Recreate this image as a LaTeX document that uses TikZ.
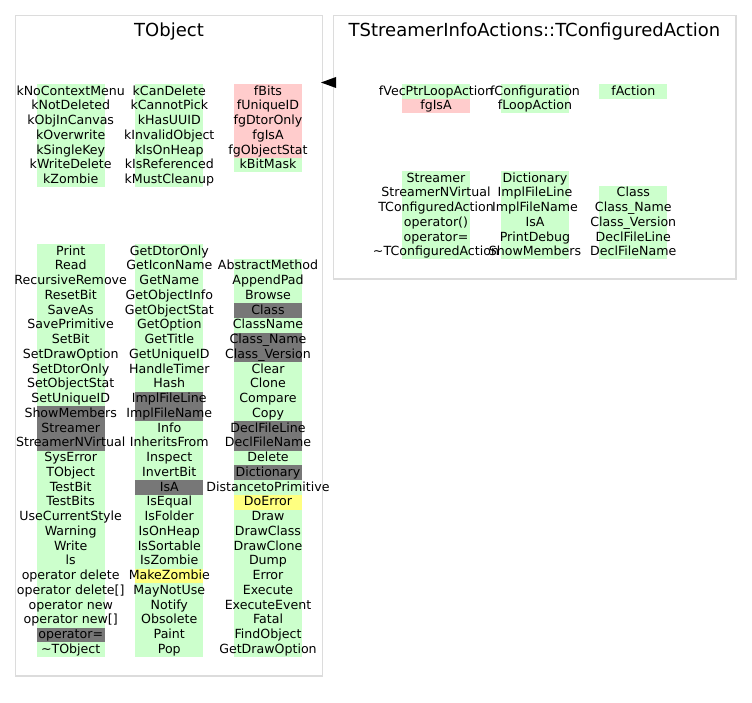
\documentclass[tikz,border=0pt]{standalone}
\usepackage{fontspec}
\setmainfont{DejaVu Sans}
\definecolor{memg}{HTML}{CCFFCC}
\definecolor{memp}{HTML}{FFCCCC}
\definecolor{memd}{HTML}{777777}
\definecolor{memy}{HTML}{FFFF80}
\definecolor{boxline}{HTML}{DCDCDC}
\pgfdeclarelayer{bg}
\pgfsetlayers{bg,main}
\newcommand\rowh{14.75}
% #1 name prefix, #2 x centre, #3 top y, #4 list text/colour
\newcommand\memcol[4]{%
  \foreach \t/\c [count=\i from 0] in {#4} {%
    \begin{pgfonlayer}{bg}
      \fill[fill=\c] (#2-34,#3+\i*\rowh) rectangle (#2+34,#3+\i*\rowh+\rowh);
    \end{pgfonlayer}
    \node[item] (#1-\i) at (#2,#3+\i*\rowh+11.2) {\t};
  }%
}
\begin{document}
\begin{tikzpicture}[x=1pt,y=-1pt,
  item/.style={anchor=base,inner sep=0pt,font=\fontsize{12.6}{14}\selectfont},
  title/.style={anchor=base,inner sep=0pt,font=\fontsize{18}{20}\selectfont},
  cluster/.style={draw=boxline,line width=1.6pt,inner sep=0pt,outer sep=0pt}]
\useasboundingbox (0,0) rectangle (752,703);
\begin{pgfonlayer}{bg}
\fill[white] (0,0) rectangle (752,703);
\end{pgfonlayer}
% clusters
\node[cluster,minimum width=307pt,minimum height=660.5pt] (tobject) at (169,345.75) {};
\node[cluster,minimum width=402.4pt,minimum height=263.6pt] (tconf) at (534.5,147.5) {};
\node[title] (tobjtitle) at (169,36.7) {TObject};
\node[title] (tconftitle) at (534.5,36.7) {TStreamerInfoActions::TConfiguredAction};
% TObject data members
\memcol{la}{70.7}{84}{kNoContextMenu/memg,kNotDeleted/memg,kObjInCanvas/memg,kOverwrite/memg,kSingleKey/memg,kWriteDelete/memg,kZombie/memg}
\memcol{lb}{169.3}{84}{kCanDelete/memg,kCannotPick/memg,kHasUUID/memg,kInvalidObject/memg,kIsOnHeap/memg,kIsReferenced/memg,kMustCleanup/memg}
\memcol{lc}{268}{84}{fBits/memp,fUniqueID/memp,fgDtorOnly/memp,fgIsA/memp,fgObjectStat/memp,kBitMask/memg}
% TObject methods
\memcol{ld}{70.7}{244}{Print/memg,Read/memg,RecursiveRemove/memg,ResetBit/memg,SaveAs/memg,SavePrimitive/memg,SetBit/memg,SetDrawOption/memg,SetDtorOnly/memg,SetObjectStat/memg,SetUniqueID/memg,ShowMembers/memd,Streamer/memd,StreamerNVirtual/memd,SysError/memg,TObject/memg,TestBit/memg,TestBits/memg,UseCurrentStyle/memg,Warning/memg,Write/memg,ls/memg,{operator delete}/memg,{operator delete[]}/memg,{operator new}/memg,{operator new[]}/memg,{operator=}/memd,{\textasciitilde TObject}/memg}
\memcol{le}{169.3}{244}{GetDtorOnly/memg,GetIconName/memg,GetName/memg,GetObjectInfo/memg,GetObjectStat/memg,GetOption/memg,GetTitle/memg,GetUniqueID/memg,HandleTimer/memg,Hash/memg,ImplFileLine/memd,ImplFileName/memd,Info/memg,InheritsFrom/memg,Inspect/memg,InvertBit/memg,IsA/memd,IsEqual/memg,IsFolder/memg,IsOnHeap/memg,IsSortable/memg,IsZombie/memg,MakeZombie/memy,MayNotUse/memg,Notify/memg,Obsolete/memg,Paint/memg,Pop/memg}
\memcol{lf}{268}{258.75}{AbstractMethod/memg,AppendPad/memg,Browse/memg,Class/memd,ClassName/memg,{Class\_Name}/memd,{Class\_Version}/memd,Clear/memg,Clone/memg,Compare/memg,Copy/memg,DeclFileLine/memd,DeclFileName/memd,Delete/memg,Dictionary/memd,DistancetoPrimitive/memg,DoError/memy,Draw/memg,DrawClass/memg,DrawClone/memg,Dump/memg,Error/memg,Execute/memg,ExecuteEvent/memg,Fatal/memg,FindObject/memg,GetDrawOption/memg}
% TConfiguredAction data members
\memcol{ra}{436}{84}{fVecPtrLoopAction/memg,fgIsA/memp}
\memcol{rb}{535}{84}{fConfiguration/memg,fLoopAction/memg}
\memcol{rc}{633.3}{84}{fAction/memg}
% TConfiguredAction methods
\memcol{rd}{436}{171}{Streamer/memg,StreamerNVirtual/memg,TConfiguredAction/memg,{operator()}/memg,{operator=}/memg,{\textasciitilde TConfiguredAction}/memg}
\memcol{re}{535}{171}{Dictionary/memg,ImplFileLine/memg,ImplFileName/memg,IsA/memg,PrintDebug/memg,ShowMembers/memg}
\memcol{rf}{633.3}{185.75}{Class/memg,{Class\_Name}/memg,{Class\_Version}/memg,DeclFileLine/memg,DeclFileName/memg}
% inheritance arrowhead
\coordinate (arrtip) at (321,82.5);
\coordinate (arrbase) at (336,82.5);
\fill[black] (arrtip) -- ([yshift=-5.5pt]arrbase) -- ([yshift=5.5pt]arrbase) -- cycle;
\end{tikzpicture}
\end{document}
